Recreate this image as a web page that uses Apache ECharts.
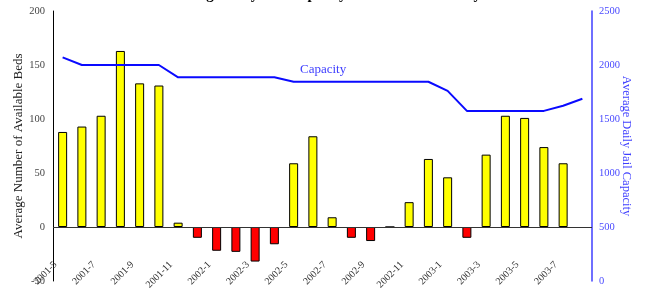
<!DOCTYPE html>
<html>
<head>
<meta charset="utf-8">
<script src="https://cdn.jsdelivr.net/npm/echarts@6/dist/echarts.min.js"></script>
<style>
  html, body { margin: 0; padding: 0; background: #fff; }
  #chart { width: 649px; height: 288px; }
</style>
</head>
<body>
<div id="chart"></div>
<script>
const months = [
  '2001-5', '2001-6', '2001-7', '2001-8', '2001-9', '2001-10', '2001-11', '2001-12',
  '2002-1', '2002-2', '2002-3', '2002-4', '2002-5', '2002-6', '2002-7', '2002-8',
  '2002-9', '2002-10', '2002-11', '2002-12',
  '2003-1', '2003-2', '2003-3', '2003-4', '2003-5', '2003-6', '2003-7', '2003-8'
];
const availableBeds = [
  88, 93, 103, 163, 133, 131, 4, -10,
  -22, -23, -32, -16, 59, 84, 9, -10,
  -13, 0, 23, 63, 46, -10, 67, 103,
  101, 74, 59, null
];
const jailCapacity = [
  2070, 2000, 2000, 2000, 2000, 2000, 1886, 1886,
  1886, 1886, 1886, 1886, 1845, 1845, 1845, 1845,
  1845, 1845, 1845, 1845, 1760, 1575, 1575, 1575,
  1575, 1575, 1623, 1688
];
const bedTicks = [-50, 200, 50];
const capTicks = [0, 2500, 500];

const chart = echarts.init(document.getElementById('chart'));
const serif = 'Liberation Serif, Times New Roman, serif';

chart.setOption({
  animation: false,
  title: {
    text: 'Average Daily Jail Capacity and Bed Availability',
    left: 'center',
    top: -17,
    textStyle: { fontFamily: serif, fontSize: 15, fontWeight: 'bold', color: '#000' }
  },
  grid: { left: 53, right: 57, top: 11, bottom: 7, outerBoundsMode: 'none' },
  xAxis: {
    type: 'category',
    data: months,
    axisLine: { show: false, onZero: false },
    axisTick: { show: false },
    axisLabel: {
      interval: 1,
      rotate: 45,
      margin: -25,
      padding: [0, 10, 0, 0],
      fontFamily: serif,
      fontSize: 10,
      color: '#333'
    }
  },
  yAxis: [
    {
      type: 'value',
      min: bedTicks[0],
      max: bedTicks[1],
      interval: bedTicks[2],
      name: 'Average Number of Available Beds',
      nameLocation: 'middle',
      nameGap: 28,
      nameMoveOverlap: false,
      nameTextStyle: { fontFamily: serif, fontSize: 13, color: '#222' },
      axisLine: { show: true, lineStyle: { color: '#000', width: 1 } },
      axisTick: { show: false },
      splitLine: { show: false },
      axisLabel: { fontFamily: serif, fontSize: 10.5, color: '#444', margin: 8 }
    },
    {
      type: 'value',
      position: 'right',
      min: capTicks[0],
      max: capTicks[1],
      interval: capTicks[2],
      name: 'Average Daily Jail Capacity',
      nameLocation: 'middle',
      nameRotate: -90,
      nameGap: 28,
      nameMoveOverlap: false,
      nameTextStyle: { fontFamily: serif, fontSize: 12.5, color: '#3f3fff' },
      axisLine: { show: true, lineStyle: { color: '#3f3fff', width: 1.5 } },
      axisTick: { show: false },
      splitLine: { show: false },
      axisLabel: {
        fontFamily: serif, fontSize: 10.5, color: '#4a4aff', margin: 7,
        formatter: (v) => String(v)
      }
    }
  ],
  graphic: [
    {
      type: 'text',
      left: 300,
      top: 63,
      style: { text: 'Capacity', font: '13px ' + serif, fill: '#3f3fff' }
    }
  ],
  series: [
    {
      name: 'Available Beds',
      type: 'bar',
      data: availableBeds,
      barWidth: 9,
      itemStyle: {
        color: (p) => (p.value >= 0 ? '#ffff00' : '#ff0000'),
        borderColor: '#000',
        borderWidth: 1
      },
      markLine: {
        silent: true,
        symbol: 'none',
        label: { show: false },
        lineStyle: { color: '#333', type: 'solid', width: 1.2 },
        data: [{ yAxis: 0 }]
      }
    },
    {
      name: 'Capacity',
      type: 'line',
      yAxisIndex: 1,
      data: jailCapacity,
      symbol: 'none',
      lineStyle: { color: '#0a0aff', width: 2 }
    }
  ]
});
</script>
</body>
</html>
